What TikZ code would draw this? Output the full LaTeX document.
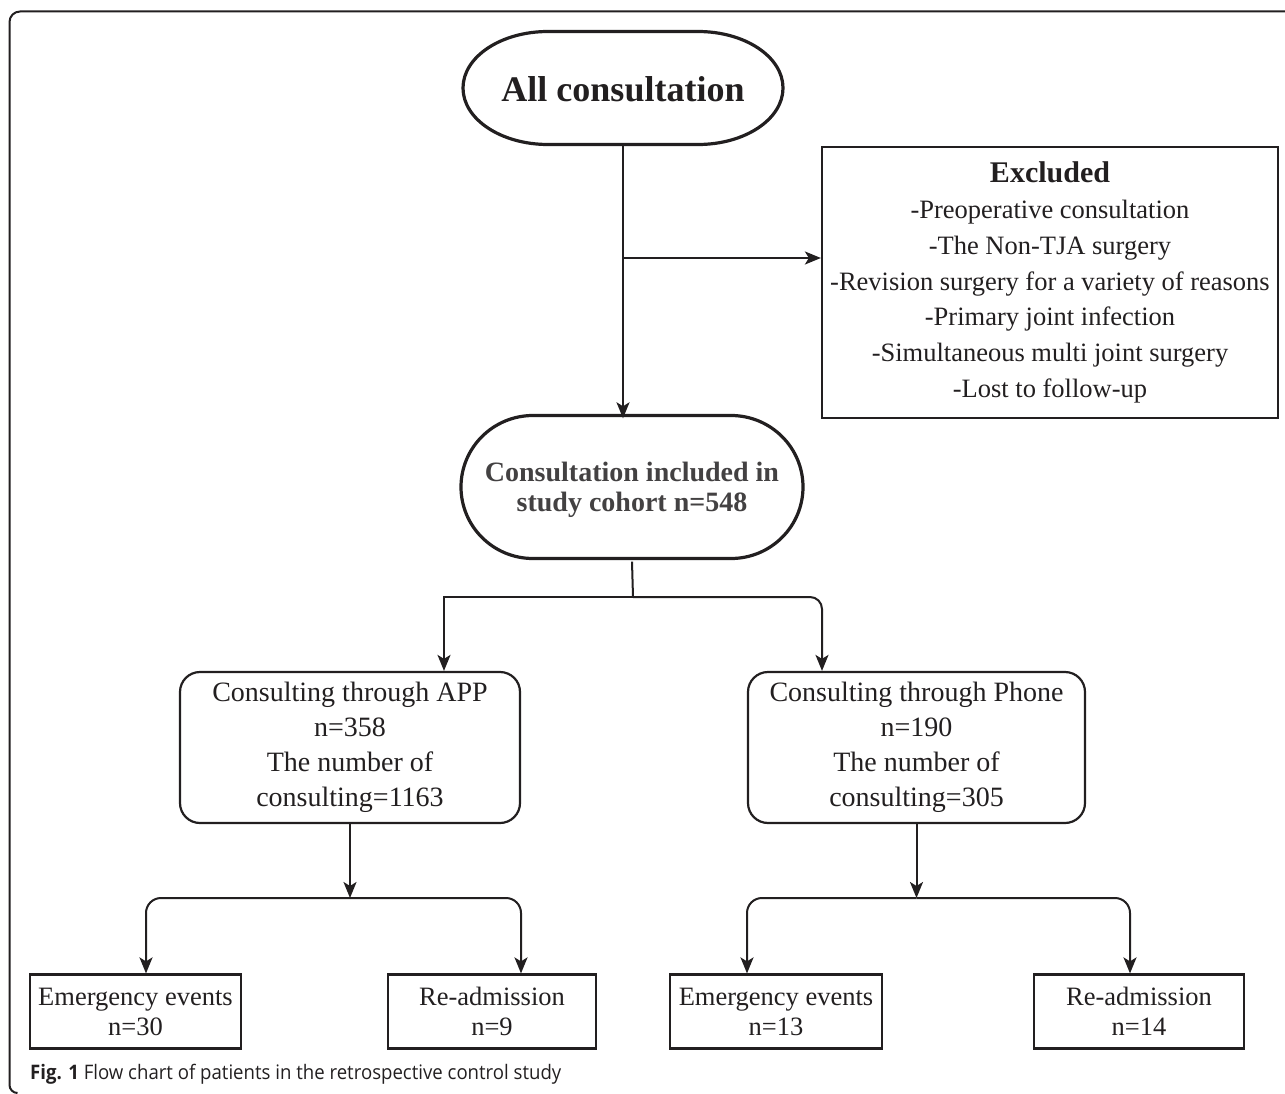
\documentclass[tikz,border=0pt]{standalone}
\usepackage{fontspec}
\setmainfont{Liberation Serif}
\newfontfamily\capfont[FakeStretch=0.93]{Open Sans}
\usetikzlibrary{arrows.meta,calc}
\definecolor{ink}{RGB}{34,31,32}
\begin{document}
\begin{tikzpicture}[x=1pt,y=-1pt,
  arr/.style={draw=ink, line width=2pt, -{Stealth[length=16pt,width=13pt,inset=4pt]}},
  ln/.style={draw=ink, line width=2pt},
  termline/.style={draw=ink, line width=3.2pt},
  txt/.style={text=ink, align=center, inner sep=0pt},
  sqbox/.style={draw=ink, line width=2.2pt, inner sep=0pt, align=center, text=ink},
  rbox/.style={sqbox, rounded corners=20pt},
  regfont/.style={font=\fontsize{26.5}{30}\selectfont},
]
\useasboundingbox (0,0) rectangle (1285,1094);
\begin{scope}
  \clip (0,0) rectangle (1285,1094);
  \draw[draw=ink, line width=2pt] (1300,11.5) -- (20,11.5)
    arc[start angle=90, end angle=180, radius=10.5pt] -- (9.5,1085)
    arc[start angle=180, end angle=270, radius=8pt];
\end{scope}

% terminator shapes
\draw[termline] (548,31.5) -- (698,31.5)
  arc[start angle=90,end angle=-90,x radius=85pt,y radius=56.5pt] -- (548,144.5)
  arc[start angle=270,end angle=90,x radius=85pt,y radius=56.5pt] -- cycle;
\draw[termline] (533,415.5) -- (731,415.5)
  arc[start angle=90,end angle=-90,x radius=72pt,y radius=71.5pt] -- (533,558.5)
  arc[start angle=270,end angle=90,x radius=72pt,y radius=71.5pt] -- cycle;

\node[txt, minimum width=320pt, minimum height=113pt, font=\fontsize{36}{40}\selectfont\bfseries] (top) at (623,89) {All consultation};
\node[txt, minimum width=342pt, minimum height=143pt, font=\fontsize{28}{30}\selectfont\bfseries, text=ink!85] (mid) at (632,490) {Consultation included in\\study cohort n=548};

\node[sqbox, minimum width=456pt, minimum height=271pt, font=\fontsize{26.5}{35.7}\selectfont] (excl) at (1050,282.5)
  {{\bfseries\fontsize{30}{35.7}\selectfont Excluded}\\-Preoperative consultation\\-The Non-TJA surgery\\-Revision surgery for a variety of reasons\\-Primary joint infection\\-Simultaneous multi joint surgery\\-Lost to follow-up};

\node[rbox, minimum width=340pt, minimum height=151pt, font=\fontsize{28}{35}\selectfont] (app) at (350,747.5)
  {Consulting through APP\\n=358\\The number of\\consulting=1163};
\node[rbox, minimum width=337pt, minimum height=151pt, font=\fontsize{28}{35}\selectfont] (phone) at (916.5,747.5)
  {Consulting through Phone\\n=190\\The number of\\consulting=305};

\node[sqbox, regfont, minimum width=211pt, minimum height=74pt] (e1) at (135.5,1011.5) {Emergency events\\n=30};
\node[sqbox, regfont, minimum width=208pt, minimum height=74pt] (r1) at (492,1011.5) {Re-admission\\n=9};
\node[sqbox, regfont, minimum width=212pt, minimum height=74pt] (e2) at (776,1011.5) {Emergency events\\n=13};
\node[sqbox, regfont, minimum width=210pt, minimum height=74pt] (r2) at (1139,1011.5) {Re-admission\\n=14};

\node[anchor=base west, inner sep=0pt, text=ink, font=\capfont\fontsize{20}{24}\selectfont] (cap) at (30,1079)
  {\textbf{Fig. 1} Flow chart of patients in the retrospective control study};

% junction coordinates
\coordinate (j1) at (623,258);
\coordinate (b1) at (633,597);
\coordinate (bl) at (444,597);
\coordinate (br) at (822,597);
\coordinate (c1) at (350,898);
\coordinate (c1l) at (146,898);
\coordinate (c1r) at (521,898);
\coordinate (c2) at (916.5,898);
\coordinate (c2l) at (747,898);
\coordinate (c2r) at (1130,898);

% connectors
\draw[arr] (top.south) -- (top.south |- mid.north);
\draw[arr] (j1) -- (excl.west |- j1);
\draw[ln] (mid.south) -- (b1);
\draw[arr] (b1) -| (app.north -| bl);
\draw[arr, rounded corners=12pt] (b1) -| (phone.north -| br);
\draw[arr] (app.south) -- (c1);
\draw[arr, rounded corners=15pt] (c1) -| (e1.north -| c1l);
\draw[arr, rounded corners=15pt] (c1) -| (r1.north -| c1r);
\draw[arr] (phone.south) -- (c2);
\draw[arr, rounded corners=15pt] (c2) -| (e2.north -| c2l);
\draw[arr, rounded corners=15pt] (c2) -| (r2.north -| c2r);
\end{tikzpicture}
\end{document}
